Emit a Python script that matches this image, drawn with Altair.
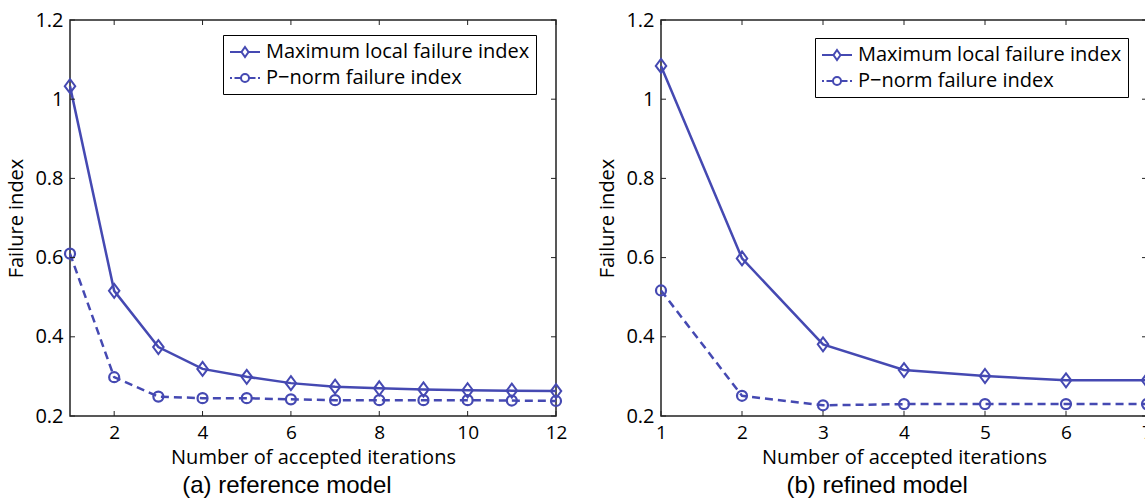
import altair as alt
import pandas as pd

# ---------------- data ----------------
names = ["Maximum local failure index", "P\u2212norm failure index"]

left_x = [1, 2, 3, 4, 5, 6, 7, 8, 9, 10, 11, 12]
left_max = [1.033, 0.516, 0.374, 0.319, 0.299, 0.283, 0.274, 0.270, 0.267, 0.265, 0.264, 0.263]
left_pnorm = [0.610, 0.298, 0.249, 0.245, 0.245, 0.242, 0.240, 0.240, 0.240, 0.240, 0.239, 0.238]
left_xticks = [2, 4, 6, 8, 10, 12]

right_x = [1, 2, 3, 4, 5, 6, 7]
right_max = [1.084, 0.598, 0.381, 0.316, 0.301, 0.290, 0.290]
right_pnorm = [0.517, 0.251, 0.227, 0.230, 0.230, 0.230, 0.230]
right_xticks = [1, 2, 3, 4, 5, 6, 7]

yticks = [0.2, 0.4, 0.6, 0.8, 1.0, 1.2]

captions = ["(a) reference model", "(b) refined model"]
x_title = "Number of accepted iterations"
y_title = "Failure index"

# ---------------- style ----------------
BLUE = "#4549B2"
AXC = "#222222"
FONT = "Open Sans"
W, H = 486, 396

DIAMOND = "M0,-1L0.75,0L0,1L-0.75,0Z"
LEG_D = "M-1.5,0H-0.35M0.35,0H1.5M0,-0.5L0.35,0L0,0.5L-0.35,0Z"
LEG_C = ("M-1.5,0H-1.3M-1.05,0H-0.4M0.4,0H1.05M1.3,0H1.5"
         "M0.4,0A0.4,0.4 0 1,1 -0.4,0A0.4,0.4 0 1,1 0.4,0Z")


def panel(xs, maxv, pnorm, xticks, caption, xdom, lx, ly):
    df = pd.DataFrame({
        "x": xs + xs,
        "y": maxv + pnorm,
        "series": [names[0]] * len(xs) + [names[1]] * len(xs),
    })
    xt = pd.DataFrame({"v": xticks})
    yt = pd.DataFrame({"v": yticks})

    X = alt.X("x:Q", title=x_title,
              scale=alt.Scale(domain=xdom, nice=False, zero=False),
              axis=alt.Axis(values=xticks, format="d", labelFontSize=19, labelFlush=False,
                            labelPadding=7, titlePadding=5))
    Y = alt.Y("y:Q", title=y_title,
              scale=alt.Scale(domain=[0.2, 1.2], nice=False, zero=False),
              axis=alt.Axis(values=yticks, format="~g", labelFontSize=20, labelFlush=False,
                            labelPadding=7, titlePadding=8))

    base = alt.Chart(df)
    s_max = base.transform_filter(alt.datum.series == names[0])
    s_pn = base.transform_filter(alt.datum.series == names[1])

    line_max = s_max.mark_line(strokeWidth=2.5, color=BLUE).encode(x=X, y=Y)
    line_pn = s_pn.mark_line(strokeWidth=2.5, color=BLUE, strokeDash=[8, 5]).encode(x=X, y=Y)
    dia = s_max.mark_point(
        shape=DIAMOND, size=196, filled=False, strokeWidth=2, color=BLUE, opacity=1
    ).encode(x=X, y=Y)
    cir = s_pn.mark_point(
        shape="circle", size=100, filled=False, strokeWidth=2.2, color=BLUE, opacity=1
    ).encode(x=X, y=Y)

    leg = base.transform_filter("false").mark_point(
        filled=False, strokeWidth=2, color=BLUE, opacity=1
    ).encode(
        x=X, y=Y,
        shape=alt.Shape("series:N",
                        scale=alt.Scale(domain=names, range=[LEG_D, LEG_C]),
                        legend=alt.Legend(title=None, orient="none", legendX=lx, legendY=ly,
                                          symbolSize=400, symbolOffset=5, labelOffset=10,
                                          labelFontSize=20, labelFont=FONT, labelColor="black",
                                          labelLimit=0, rowPadding=5, padding=6,
                                          strokeColor="black", fillColor="white",
                                          symbolStrokeWidth=2, symbolStrokeColor=BLUE)),
    )

    xa = alt.X("v:Q", title=x_title)
    ya = alt.Y("v:Q", title=y_title)
    tb = alt.Chart(xt).mark_rule(color=AXC, strokeWidth=1).encode(
        x=xa, y=alt.value(H), y2=alt.value(H - 5))
    tt = alt.Chart(xt).mark_rule(color=AXC, strokeWidth=1).encode(
        x=xa, y=alt.value(0), y2=alt.value(5))
    tl = alt.Chart(yt).mark_rule(color=AXC, strokeWidth=1).encode(
        y=ya, x=alt.value(0), x2=alt.value(5))
    tr = alt.Chart(yt).mark_rule(color=AXC, strokeWidth=1).encode(
        y=ya, x=alt.value(W), x2=alt.value(W - 5))

    return alt.layer(line_max, line_pn, dia, cir, leg, tb, tt, tl, tr).properties(
        width=W, height=H,
        title=alt.TitleParams(caption, orient="bottom", anchor="middle", frame="bounds",
                              font="Liberation Sans", fontSize=24, fontWeight="normal",
                              color="black", offset=7),
    )


left = panel(left_x, left_max, left_pnorm, left_xticks, captions[0], [1, 12], 153, 15)
right = panel(right_x, right_max, right_pnorm, right_xticks, captions[1], [1, 7], 154, 18)

chart = alt.hconcat(left, right, spacing=29).resolve_scale(
    shape="independent", x="independent", y="independent"
).resolve_legend(shape="independent").properties(
    padding={"left": 6, "top": 9, "right": -13, "bottom": 0},
    background="white",
).configure_view(stroke=AXC, strokeWidth=1.5).configure_axis(
    domain=False, ticks=False, grid=False,
    labelFont=FONT, titleFont=FONT, labelColor="black", titleColor="black",
    titleFontSize=20, titleFontWeight="normal",
)

chart.save("out.html", embed_options={"renderer": "svg", "actions": False})
